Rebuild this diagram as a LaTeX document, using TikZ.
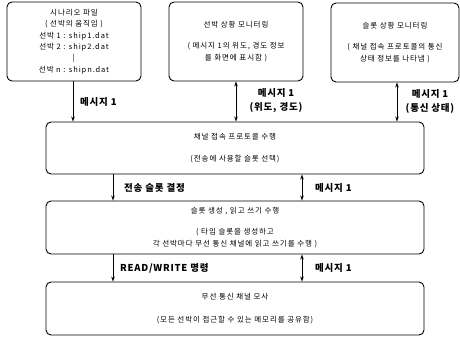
\documentclass[tikz,border=0pt]{standalone}
\usepackage{fontspec}
\setmainfont{Noto Sans CJK KR}
\newfontfamily\boxfont{Noto Sans CJK KR}[LetterSpace=12]
\newfontfamily\lblfont{Noto Sans CJK KR}[LetterSpace=8]
\usetikzlibrary{arrows.meta}
\begin{document}
\begin{tikzpicture}[x=1pt,y=-1pt,
 box/.style={draw, rounded corners=5pt, line width=0.9pt, inner sep=0pt, align=center,
   font=\boxfont\fontsize{7.5}{11.4}\selectfont},
 lbl/.style={font=\lblfont\bfseries\fontsize{9.5}{14}\selectfont, align=center, inner sep=0pt},
 arr/.style={-{Stealth[length=5pt,width=3.5pt]}, line width=0.8pt},
 darr/.style={{Stealth[length=5pt,width=3.5pt]}-{Stealth[length=5pt,width=3.5pt]}, line width=0.8pt}]
\useasboundingbox (0,0) rectangle (460,337);
\node[box, minimum width=134pt, minimum height=79pt] (b1) at (74,41.5)
 {시나리오 파일\\( 선박의 움직임 )\\선박 1 : ship1.dat\\선박 2 : ship2.dat\\|\\선박 n : shipn.dat};
\node[box, minimum width=134pt, minimum height=79pt] (b2) at (236,41.5)
 {선박 상황 모니터링\\[10pt]( 메시지 1의 위도, 경도 정보\\를 화면에 표시함 )};
\node[box, minimum width=128pt, minimum height=79pt] (b3) at (395,42.5)
 {슬롯 상황 모니터링\\[10pt]( 채널 접속 프로토콜의 통신\\상태 정보를 나타냄 )};
\node[box, minimum width=378pt, minimum height=52pt] (b4) at (235,148)
 {채널 접속 프로토콜 수행\\[11pt](전송에 사용할 슬롯 선택)};
\node[box, minimum width=378pt, minimum height=53pt] (b5) at (235,227.5)
 {슬롯 생성 , 읽고 쓰기 수행\\[10pt]( 타임 슬롯을 생성하고\\각 선박마다 무선 통신 채널에 읽고 쓰기를 수행 )};
\node[box, minimum width=378pt, minimum height=53pt] (b6) at (235,308.5)
 {무선 통신 채널 모사\\[11pt](모든 선박이 접근할 수 있는 메모리를 공유함)};
\coordinate (xa) at (73,0);
\coordinate (xb) at (236,0);
\coordinate (xc) at (397,0);
\coordinate (xd) at (113,0);
\coordinate (xe) at (302,0);
\draw[arr] (b1.south -| xa) -- (b4.north -| xa);
\draw[darr] (b2.south -| xb) -- (b4.north -| xb);
\draw[darr] (b3.south -| xc) -- (b4.north -| xc);
\draw[arr] (b4.south -| xd) -- (b5.north -| xd);
\draw[darr] (b4.south -| xe) -- (b5.north -| xe);
\draw[arr] (b5.south -| xd) -- (b6.north -| xd);
\draw[darr] (b5.south -| xe) -- (b6.north -| xe);
\node[lbl, anchor=west] (l1) at (80,102) {메시지 1};
\node[lbl] (l2) at (276,101) {메시지 1\\(위도, 경도)};
\node[lbl] (l3) at (430,101.5) {메시지 1\\(통신 상태)};
\node[lbl, anchor=west] (l4) at (124,188) {전송 슬롯 결정};
\node[lbl, anchor=west] (l5) at (315,188) {메시지 1};
\node[lbl, anchor=west] (l6) at (120,268) {READ/WRITE 명령};
\node[lbl, anchor=west] (l7) at (315,268) {메시지 1};
\end{tikzpicture}
\end{document}
